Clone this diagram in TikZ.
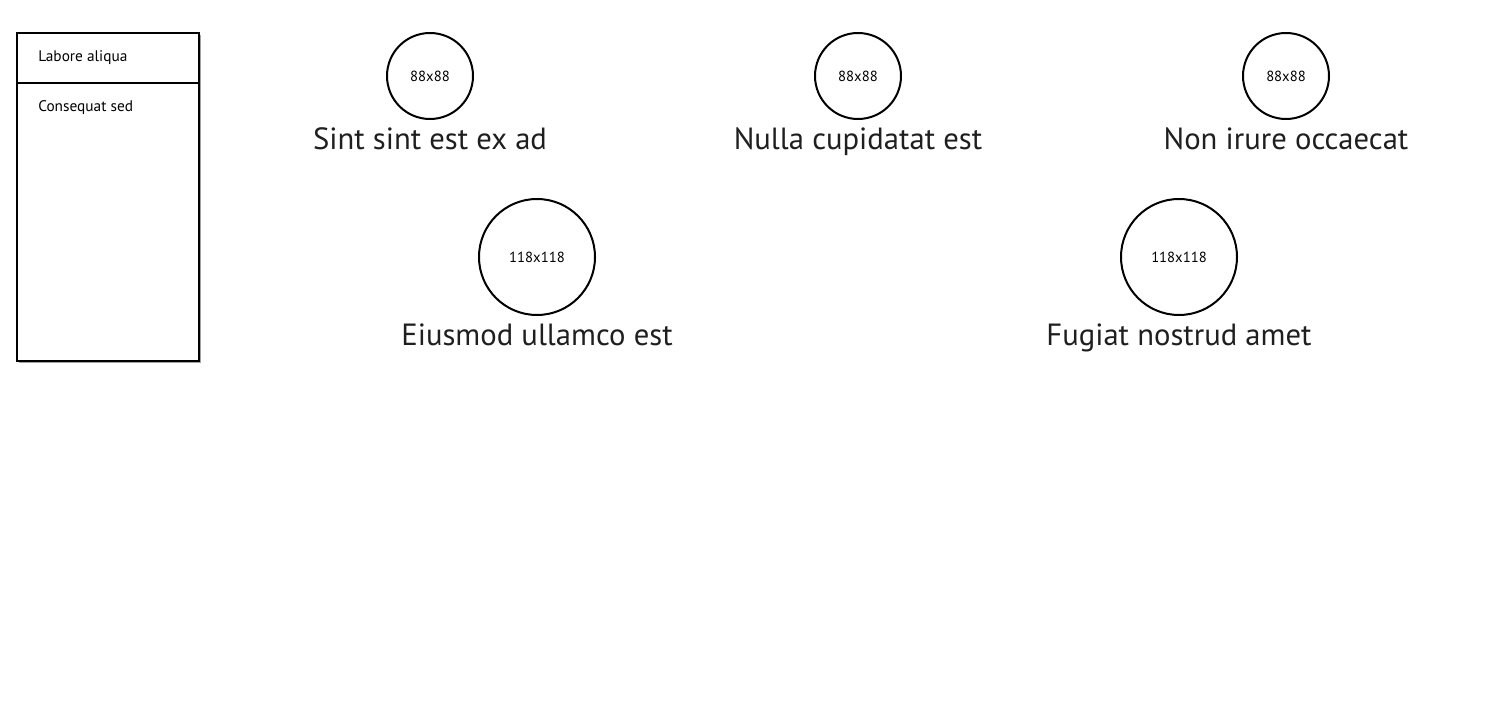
\documentclass[tikz,border=0pt]{standalone}
\usepackage{fontspec}
\setmainfont{PT Sans}
\usetikzlibrary{shadows}
\definecolor{ink}{HTML}{1F1F1F}
\begin{document}
\begin{tikzpicture}[x=0.75pt,y=-0.75pt,
  small/.style={circle,draw=black,line width=1.5pt,minimum size=86*0.75pt,inner sep=0pt,font=\fontsize{11}{13}\selectfont},
  big/.style={circle,draw=black,line width=1.5pt,minimum size=116*0.75pt,inner sep=0pt,font=\fontsize{11}{13}\selectfont},
  caption/.style={text=ink,font=\fontsize{23}{27}\selectfont,inner sep=0pt,anchor=base},
  paneltext/.style={anchor=west,font=\fontsize{11.5}{13}\selectfont,inner sep=0pt}]
\useasboundingbox (0,0) rectangle (1500,720);
% panel
\node[draw=black,fill=white,line width=1.5pt,minimum width=182*0.75pt,minimum height=328*0.75pt,inner sep=0pt,
  drop shadow={shadow xshift=1.5pt,shadow yshift=-1.5pt,opacity=0.6,fill=black!60}] (panel) at (108,197) {};
\coordinate (divl) at (17,83);
\coordinate (divr) at (199,83);
\draw[line width=1.5pt] (divl) -- (divr);
\node[paneltext] (t1) at (38,58) {Labore aliqua};
\node[paneltext] (t2) at (38,108) {Consequat sed};
% circles
\node[small] (c1) at (430,76) {88x88};
\node[small] (c2) at (858,76) {88x88};
\node[small] (c3) at (1286,76) {88x88};
\node[big] (c4) at (537,257) {118x118};
\node[big] (c5) at (1179,257) {118x118};
% captions
\node[caption] (l1) at (430,150) {Sint sint est ex ad};
\node[caption] (l2) at (858,150) {Nulla cupidatat est};
\node[caption] (l3) at (1286,150) {Non irure occaecat};
\node[caption] (l4) at (537,346) {Eiusmod ullamco est};
\node[caption] (l5) at (1179,346) {Fugiat nostrud amet};
\end{tikzpicture}
\end{document}
